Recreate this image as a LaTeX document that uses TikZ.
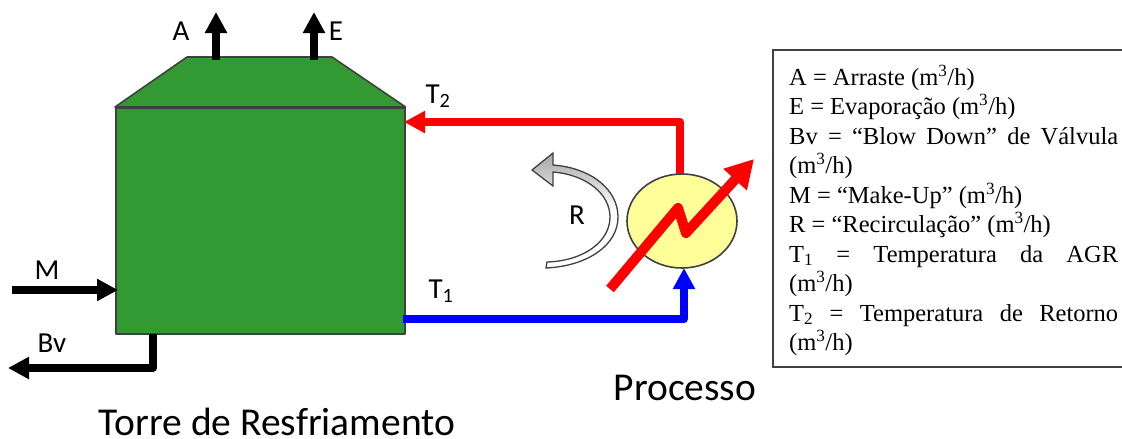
\documentclass[tikz,border=0pt]{standalone}
\usepackage{fontspec}
\setmainfont{Carlito}
\newfontfamily\legendfont{Liberation Serif}
\usetikzlibrary{arrows.meta,shapes.geometric,calc}
\definecolor{edgegrey}{HTML}{404040}
\definecolor{towergreen}{HTML}{339933}
\definecolor{hxyellow}{HTML}{FFFF99}
\tikzset{
  x=1pt,y=-1pt,
  outlined/.style={draw=edgegrey,line width=1.6pt,line join=round},
  pipe/.style={line width=8pt,line join=round,-{Triangle[width=21pt,length=21pt]}},
  label/.style={font=\fontsize{29}{32}\selectfont,inner sep=0pt},
  caption/.style={font=\fontsize{39.5}{42}\selectfont,inner sep=0pt},
}
\begin{document}
\begin{tikzpicture}
\useasboundingbox (0,0) rectangle (1122,439);
% tower
\node[outlined,fill=towergreen,rectangle,inner sep=0pt,minimum width=289pt,minimum height=226pt,anchor=north west] (tower) at (115,107) {};
\coordinate (roofA) at (187,57);
\coordinate (roofB) at (332,57);
\draw[outlined,fill=towergreen] (tower.north west) -- (roofA) -- (roofB) -- (tower.north east) -- cycle;
% top arrows
\coordinate (aS) at (216,60); \coordinate (aE) at (216,12);
\coordinate (eS) at (314,60); \coordinate (eE) at (314,12);
\draw[pipe] (aS) -- (aE);
\draw[pipe] (eS) -- (eE);
\node[label] (labA) at (181,31) {A};
\node[label] (labE) at (336,31) {E};
% make-up
\coordinate (mS) at (12,290); \coordinate (mE) at (118,290);
\draw[pipe] (mS) -- (mE);
\node[label] (labM) at (47,270) {M};
% blow down
\coordinate (bS) at (153,334); \coordinate (bC) at (153,368); \coordinate (bE) at (8,368);
\draw[pipe] (bS) -- (bC) -- (bE);
\node[label] (labB) at (52,343) {Bv};
% exchanger
\node[outlined,fill=hxyellow,ellipse,inner sep=0pt,minimum width=110pt,minimum height=94pt] (hx) at (682,221) {};
% return line
\coordinate (t2C) at (680,122);
\coordinate (t2S) at (680,174);
\coordinate (t2E) at (404,122);
\draw[pipe,draw=red] (t2S) -- (t2C) -- (t2E);
\node[label] (labT2) at (438,96) {T\textsubscript{2}};
% supply line
\coordinate (t1S) at (403,319);
\coordinate (t1C) at (684,319);
\coordinate (t1E) at (684,268);
\draw[pipe,draw=blue] (t1S) -- (t1C) -- (t1E);
\node[label] (labT1) at (441,291) {T\textsubscript{1}};
% utility arrow through exchanger
\coordinate (zA) at (610,289);
\coordinate (zB) at (678,208);
\coordinate (zC) at (686,233);
\coordinate (zD) at (754,159);
\draw[red,line width=10pt,line join=round,-{Triangle[width=30pt,length=28pt]}] (zA) -- (zB) -- (zC) -- (zD);
% recirculation arrow
\draw[draw=edgegrey,line width=1.3pt,line join=miter,top color=black!35,bottom color=white,middle color=white]
  (532,170) -- (553,153) -- (553,165)
  .. controls (592,168) and (618,190) .. (618,217)
  .. controls (618,245) and (588,266) .. (546,268)
  -- (547,262)
  .. controls (583,261) and (610,242) .. (610,217)
  .. controls (610,195) and (588,175) .. (553,172)
  -- (553,186) -- cycle;
\node[label] (labR) at (577,215) {R};
% legend frame
\coordinate (frTR) at (1122,50);
\coordinate (frTL) at (773,50);
\coordinate (frBL) at (773,367);
\coordinate (frBR) at (1122,367);
\draw[edgegrey,line width=2pt] (frTR) -- (frTL) -- (frBL) -- (frBR);
\node[anchor=north west,inner sep=0pt,text width=329pt,align=justify,font=\legendfont\fontsize{24.5}{29.5}\selectfont] (legend) at (789,64.5) {%
A = Arraste (m\textsuperscript{3}/h)\\
E = Evaporação (m\textsuperscript{3}/h)\\
Bv = “Blow Down” de Válvula\linebreak
(m\textsuperscript{3}/h)\\
M = “Make-Up” (m\textsuperscript{3}/h)\\
R = “Recirculação” (m\textsuperscript{3}/h)\\
T\textsubscript{1} = Temperatura da AGR\linebreak
(m\textsuperscript{3}/h)\\
T\textsubscript{2} = Temperatura de Retorno\linebreak
(m\textsuperscript{3}/h)};
% captions
\node[caption] (capP) at (685,388) {Processo};
\node[caption] (capT) at (277,421.5) {Torre de Resfriamento};
\end{tikzpicture}
\end{document}
